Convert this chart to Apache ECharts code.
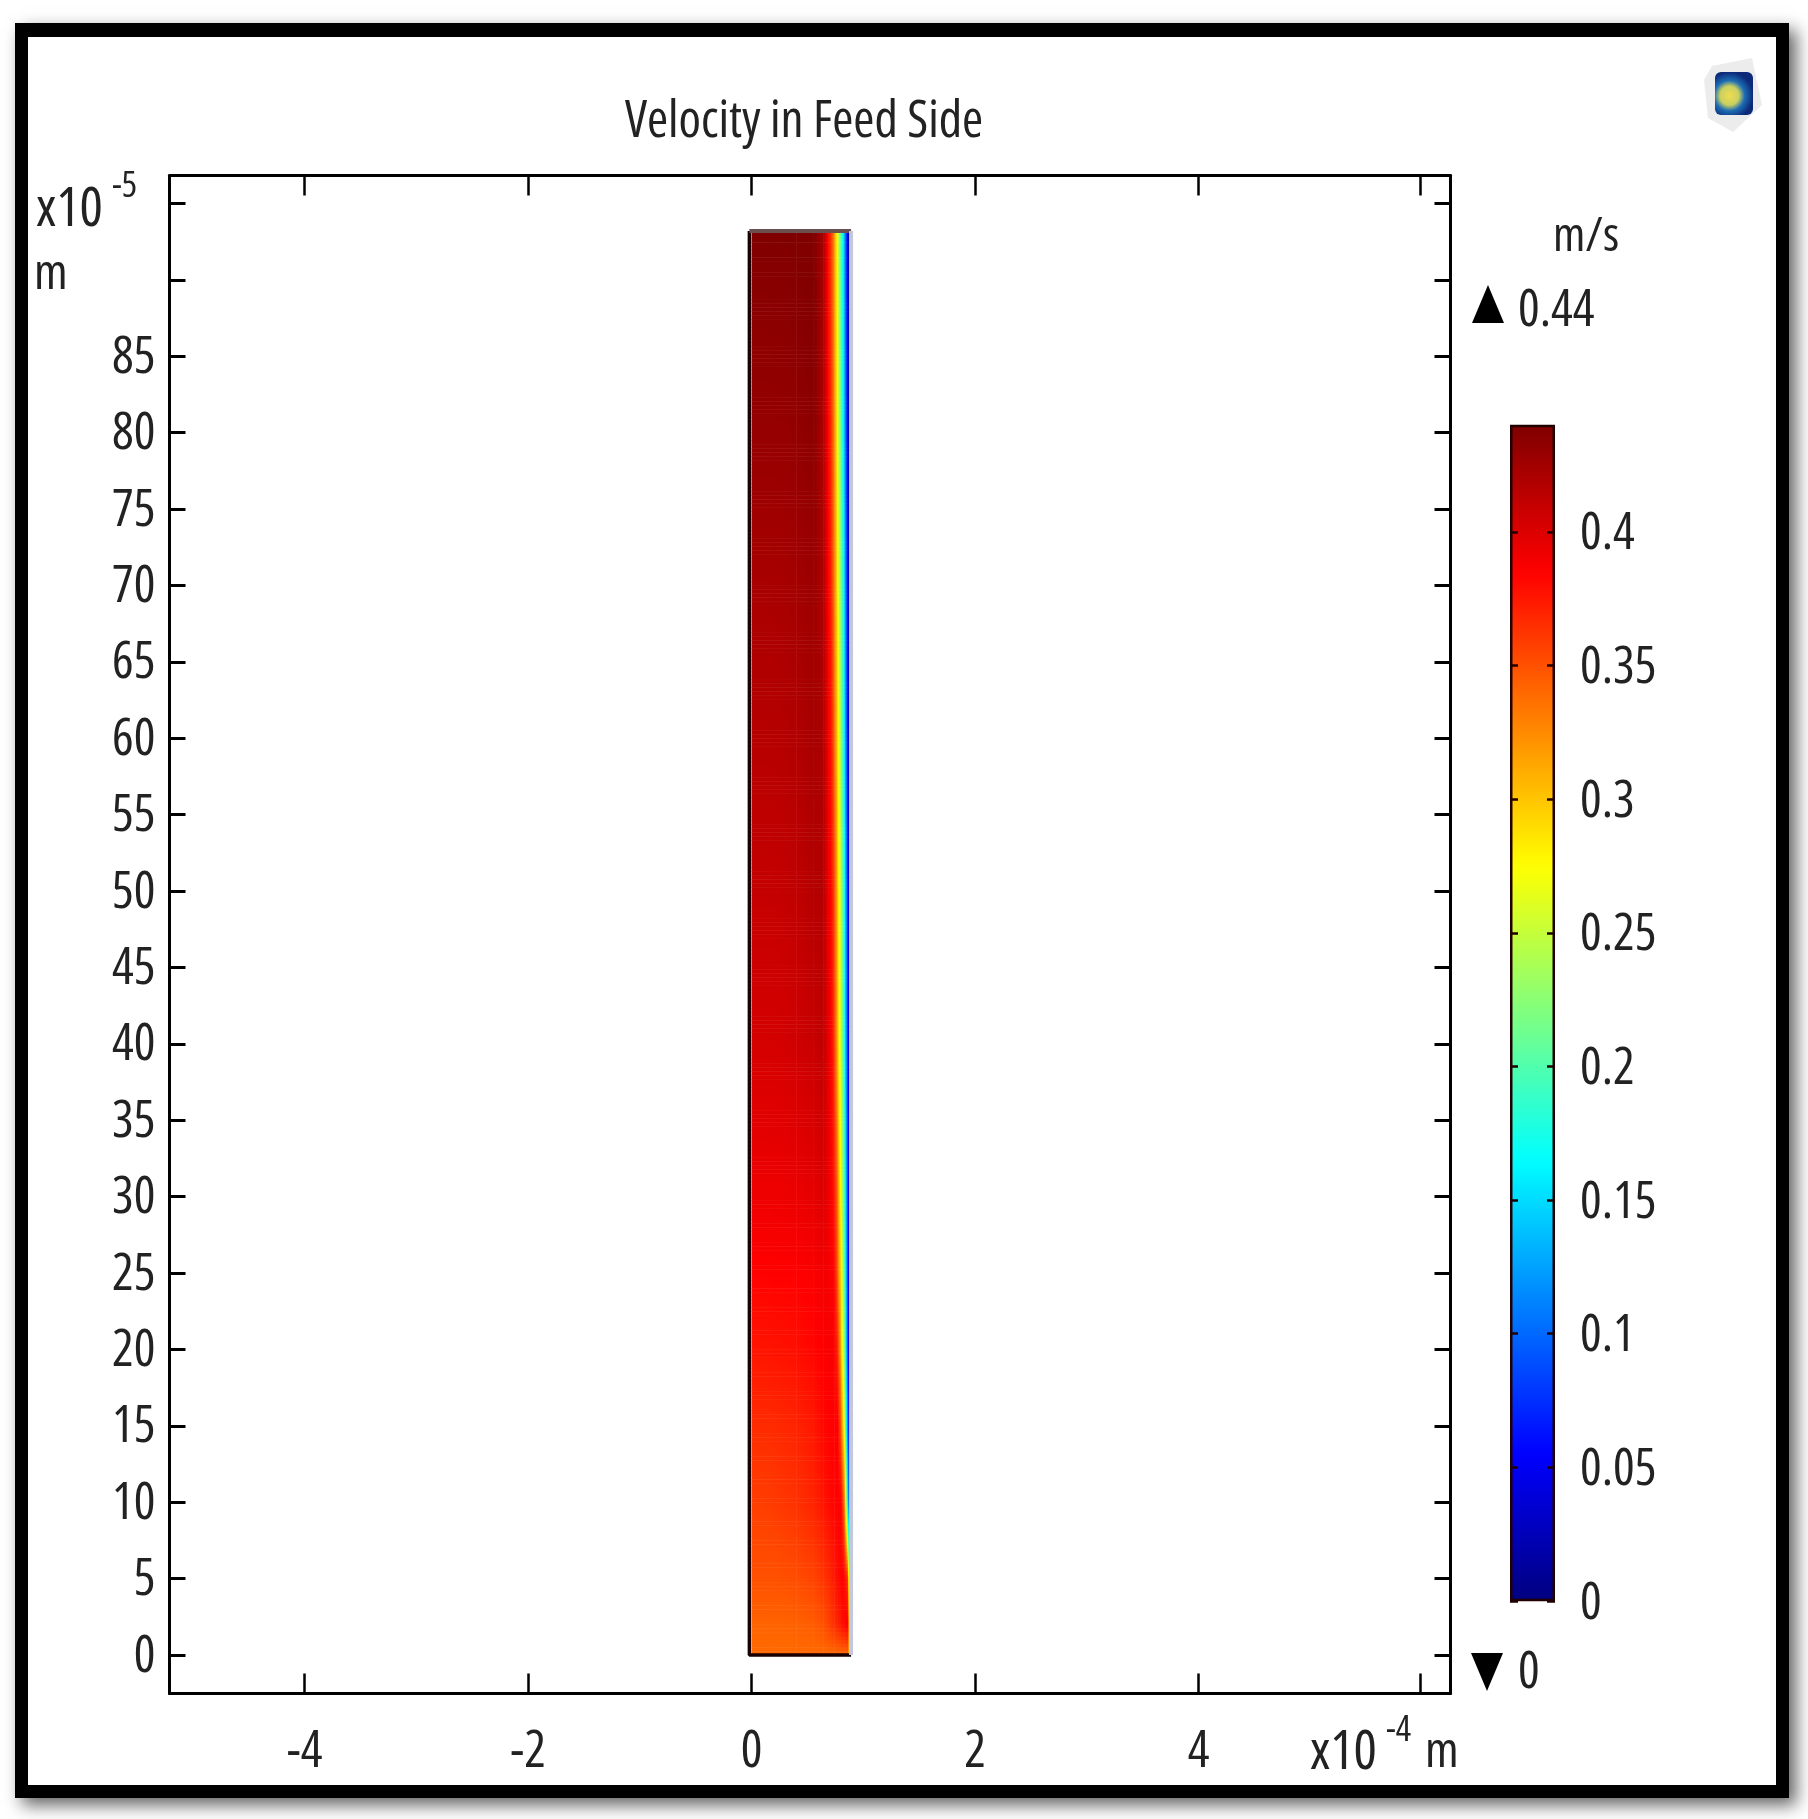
<!DOCTYPE html>
<html lang="en">
<head>
    <meta charset="UTF-8">
    <title>Velocity in Feed Side</title>
    <script type="text/javascript" src="https://cdn.jsdelivr.net/npm/echarts@6/dist/echarts.min.js"></script>
    <style>
        html, body { margin: 0; padding: 0; background: #fff; overflow: hidden; }
        #main { width: 1808px; height: 1819px; }
    </style>
</head>
<body>
<div id="main"></div>
<script type="text/javascript">
    // axis ticks and labels
    var xTicks = [-4, -2, 0, 2, 4, 5.98];
    var xLabels = [-4, -2, 0, 2, 4];
    var yTicks = [0, 5, 10, 15, 20, 25, 30, 35, 40, 45, 50, 55, 60, 65, 70, 75, 80, 85, 90, 95];
    var yLabels = [0, 5, 10, 15, 20, 25, 30, 35, 40, 45, 50, 55, 60, 65, 70, 75, 80, 85];
    var barTicks = [0, 0.05, 0.1, 0.15, 0.2, 0.25, 0.3, 0.35, 0.4];
    var jetColors = ['#00007f', '#0000ff', '#007fff', '#00ffff', '#7fff7f', '#ffff00', '#ff7f00', '#ff0000', '#7f0000'];

    // channel outline
    var wallLeft = -0.02;
    var wallRight = 0.89;
    var wallTop = 93.2;

    // velocity, m/s. stations in x (1e-4 m) and y (1e-5 m)
    var fieldX = [0, 0.2, 0.4, 0.55, 0.64, 0.68, 0.71, 0.74, 0.77, 0.80, 0.83, 0.86, 0.885];
    var fieldY = [0, 2, 5, 10, 15, 20, 25, 30, 40, 50, 60, 70, 80, 90, 93.2];
    var vY0  = [0.339, 0.339, 0.339, 0.339, 0.339, 0.339, 0.339, 0.339, 0.339, 0.339, 0.339, 0.339, 0.25];
    var vY2  = [0.342, 0.342, 0.343, 0.345, 0.35, 0.355, 0.36, 0.365, 0.37, 0.375, 0.385, 0.385, 0.20];
    var vY5  = [0.35, 0.35, 0.352, 0.356, 0.362, 0.366, 0.37, 0.375, 0.38, 0.384, 0.385, 0.36, 0.08];
    var vY10 = [0.358, 0.36, 0.364, 0.37, 0.376, 0.38, 0.382, 0.384, 0.385, 0.385, 0.33, 0.15, 0];
    var vY15 = [0.366, 0.367, 0.37, 0.375, 0.382, 0.384, 0.385, 0.385, 0.385, 0.34, 0.26, 0.09, 0];
    var vY20 = [0.376, 0.377, 0.379, 0.383, 0.386, 0.387, 0.387, 0.386, 0.365, 0.30, 0.22, 0.07, 0];
    var vY25 = [0.384, 0.385, 0.385, 0.387, 0.39, 0.389, 0.386, 0.383, 0.34, 0.28, 0.20, 0.07, 0];
    var vY30 = [0.392, 0.392, 0.393, 0.396, 0.4, 0.394, 0.386, 0.375, 0.33, 0.26, 0.19, 0.07, 0];
    var vY40 = [0.403, 0.403, 0.405, 0.409, 0.412, 0.398, 0.385, 0.36, 0.30, 0.245, 0.175, 0.065, 0];
    var vY50 = [0.41, 0.41, 0.412, 0.417, 0.418, 0.395, 0.382, 0.353, 0.295, 0.24, 0.17, 0.06, 0];
    var vY60 = [0.416, 0.416, 0.418, 0.423, 0.42, 0.393, 0.375, 0.34, 0.285, 0.225, 0.155, 0.05, 0];
    var vY70 = [0.422, 0.422, 0.424, 0.428, 0.42, 0.39, 0.37, 0.33, 0.275, 0.215, 0.145, 0.045, 0];
    var vY80 = [0.43, 0.43, 0.431, 0.435, 0.42, 0.388, 0.365, 0.325, 0.265, 0.205, 0.135, 0.04, 0];
    var vY90 = [0.436, 0.436, 0.437, 0.44, 0.422, 0.385, 0.36, 0.32, 0.26, 0.20, 0.13, 0.035, 0];
    var vY93 = [0.44, 0.44, 0.44, 0.44, 0.424, 0.385, 0.36, 0.32, 0.26, 0.20, 0.13, 0.035, 0];
    var fieldRows = [vY0, vY2, vY5, vY10, vY15, vY20, vY25, vY30, vY40, vY50, vY60, vY70, vY80, vY90, vY93];
    var vMax = 0.44;

    var font = '"Open Sans"';
    var stretch = 'condensed'; // goes through fontWeight, that is where the canvas font string takes it
    var inkColor = '#222';

    // one item per cell: x0, x1, y0, y1, mean, then the four corners
    var cells = [];
    for (var j = 0; j < fieldY.length - 1; j++) {
        for (var i = 0; i < fieldX.length - 1; i++) {
            var bl = fieldRows[j][i], br = fieldRows[j][i + 1];
            var tl = fieldRows[j + 1][i], tr = fieldRows[j + 1][i + 1];
            cells.push([fieldX[i], fieldX[i + 1], fieldY[j], fieldY[j + 1], (bl + br + tl + tr) / 4, bl, br, tl, tr]);
        }
    }

    function jet(v) {
        return echarts.color.lerp(v / vMax, jetColors);
    }

    // shade a cell from its four corners, thin strips so the rainbow edge does not stair-step
    function renderCell(params, api) {
        var p0 = api.coord([api.value(0), api.value(2)]);
        var p1 = api.coord([api.value(1), api.value(3)]);
        var bl = api.value(5), br = api.value(6), tl = api.value(7), tr = api.value(8);
        var w = p1[0] - p0[0];
        var h = p0[1] - p1[1];
        var n = Math.max(1, Math.ceil(h / 4));
        var children = [];
        for (var k = 0; k < n; k++) {
            var t = (k + 0.5) / n;
            var vl = bl + (tl - bl) * t;
            var vr = br + (tr - br) * t;
            var stops = [];
            for (var s = 0; s <= 4; s++) {
                stops.push({offset: s / 4, color: jet(vl + (vr - vl) * s / 4)});
            }
            children.push({
                type: 'rect',
                shape: {x: p0[0], y: p0[1] - h * (k + 1) / n, width: w + 0.5, height: h / n + 0.5},
                style: {fill: new echarts.graphic.LinearGradient(0, 0, 1, 0, stops)}
            });
        }
        return {type: 'group', children: children};
    }

    function txt(text, x, y, size, align) {
        return {
            type: 'text',
            x: x,
            y: y,
            z: 20,
            silent: true,
            style: {
                text: text,
                fill: inkColor,
                font: stretch + ' ' + size + 'px ' + font,
                textAlign: align || 'left',
                textVerticalAlign: 'middle'
            }
        };
    }

    var graphics = [
        // frame with its drop shadow
        {
            type: 'rect',
            z: -10,
            silent: true,
            shape: {x: 15, y: 23, width: 1774, height: 1775},
            style: {fill: '#000', shadowColor: 'rgba(0,0,0,0.62)', shadowBlur: 16, shadowOffsetX: 7, shadowOffsetY: 7}
        },
        {
            type: 'rect',
            z: -9,
            silent: true,
            shape: {x: 28, y: 37, width: 1748, height: 1748},
            style: {fill: '#fff'}
        },
        // legend triangles
        {type: 'polygon', z: 20, silent: true, shape: {points: [[1488, 285], [1504, 323], [1472, 323]]}, style: {fill: '#000'}},
        {type: 'polygon', z: 20, silent: true, shape: {points: [[1471, 1653], [1503, 1653], [1487, 1691]]}, style: {fill: '#000'}},
        // colour bar outline
        {type: 'rect', z: 20, silent: true, shape: {x: 1511.25, y: 426, width: 42.5, height: 1174}, style: {fill: 'none', stroke: '#200000', lineWidth: 2.5}},
        // application icon
        {type: 'polygon', z: 20, silent: true, shape: {points: [[1712, 66], [1752, 58], [1762, 105], [1733, 132], [1708, 118], [1704, 80]]}, style: {fill: '#ececec'}},
        {
            type: 'rect',
            z: 21,
            silent: true,
            shape: {x: 1715, y: 72, width: 38, height: 43, r: 6},
            style: {fill: new echarts.graphic.RadialGradient(0.38, 0.55, 0.62, [
                {offset: 0, color: '#f0dc50'},
                {offset: 0.4, color: '#c8d060'},
                {offset: 0.65, color: '#1c6cb4'},
                {offset: 1, color: '#0c2a78'}
            ])}
        },
        // unit texts
        txt('x10', 36, 210, 55),
        txt('-5', 112, 187, 36),
        txt('m', 34, 275, 50),
        txt('x10', 1310, 1753, 55),
        txt('-4', 1386, 1731, 36),
        txt('m', 1425, 1753, 50),
        txt('m/s', 1553, 237, 48),
        txt('0.44', 1518, 311, 51),
        txt('0', 1518, 1673, 51)
    ];

    var baseLabel = {
        color: inkColor,
        fontFamily: font,
        fontWeight: stretch,
        fontSize: 51
    };

    // grids 2 and 3 only carry the labels, a few pixels below their ticks as in the reference
    var option = {
        animation: false,
        backgroundColor: '#fff',
        title: {
            text: 'Velocity in Feed Side',
            left: 799,
            top: 92,
            textAlign: 'center',
            textStyle: {color: inkColor, fontFamily: font, fontSize: 51, fontWeight: stretch}
        },
        graphic: graphics,
        visualMap: {
            type: 'continuous',
            seriesIndex: 0,
            dimension: 4,
            min: 0,
            max: vMax,
            calculable: false,
            hoverLink: false,
            realtime: false,
            left: 1510,
            top: 425,
            padding: 0,
            itemWidth: 45,
            itemHeight: 1176,
            text: ['', ''],
            showLabel: false,
            inRange: {color: jetColors}
        },
        grid: [
            {left: 169.5, top: 175.5, width: 1281, height: 1518},
            {left: 1510, top: 425, width: 45, height: 1176},
            {left: 169.5, top: 177.5, width: 1281, height: 1518},
            {left: 1510, top: 428, width: 45, height: 1176}
        ],
        xAxis: [
            {
                type: 'value', gridIndex: 0, position: 'bottom', min: -5.209, max: 6.254,
                splitLine: {show: false},
                axisLine: {onZero: false, lineStyle: {color: '#000', width: 3}},
                axisTick: {inside: true, length: 20, customValues: xTicks, lineStyle: {color: '#000', width: 2.5}},
                axisLabel: Object.assign({margin: 33, customValues: xLabels}, baseLabel)
            },
            {
                type: 'value', gridIndex: 0, position: 'top', min: -5.209, max: 6.254,
                splitLine: {show: false},
                axisLine: {onZero: false, lineStyle: {color: '#000', width: 3}},
                axisTick: {inside: true, length: 20, customValues: xTicks, lineStyle: {color: '#000', width: 2.5}},
                axisLabel: {show: false}
            },
            {type: 'value', gridIndex: 1, min: 0, max: 1, show: false},
            {type: 'value', gridIndex: 2, min: 0, max: 1, show: false},
            {type: 'value', gridIndex: 3, min: 0, max: 1, show: false}
        ],
        yAxis: [
            {
                type: 'value', gridIndex: 0, position: 'left', min: -2.52, max: 96.83,
                splitLine: {show: false},
                axisLine: {onZero: false, lineStyle: {color: '#000', width: 3}},
                axisTick: {inside: true, length: 16, customValues: yTicks, lineStyle: {color: '#000', width: 3}},
                axisLabel: {show: false}
            },
            {
                type: 'value', gridIndex: 0, position: 'right', min: -2.52, max: 96.83,
                splitLine: {show: false},
                axisLine: {onZero: false, lineStyle: {color: '#000', width: 3}},
                axisTick: {inside: true, length: 16, customValues: yTicks, lineStyle: {color: '#000', width: 3}},
                axisLabel: {show: false}
            },
            {
                type: 'value', gridIndex: 1, position: 'left', min: 0, max: vMax, z: 10,
                splitLine: {show: false},
                axisLine: {show: false},
                axisTick: {inside: true, length: 8, customValues: barTicks, lineStyle: {color: '#200000', width: 2.5}},
                axisLabel: {show: false}
            },
            {
                type: 'value', gridIndex: 1, position: 'right', min: 0, max: vMax, z: 10,
                splitLine: {show: false},
                axisLine: {show: false},
                axisTick: {inside: true, length: 8, customValues: barTicks, lineStyle: {color: '#200000', width: 2.5}},
                axisLabel: {show: false}
            },
            {
                type: 'value', gridIndex: 2, position: 'left', min: -2.52, max: 96.83,
                splitLine: {show: false},
                axisLine: {show: false, onZero: false},
                axisTick: {show: false},
                axisLabel: Object.assign({margin: 14, customValues: yLabels}, baseLabel)
            },
            {
                type: 'value', gridIndex: 3, position: 'right', min: 0, max: vMax,
                splitLine: {show: false},
                axisLine: {show: false},
                axisTick: {show: false},
                axisLabel: Object.assign({margin: 25, customValues: barTicks}, baseLabel)
            }
        ],
        series: [
            {
                name: 'velocity',
                type: 'custom',
                xAxisIndex: 0,
                yAxisIndex: 0,
                silent: true,
                renderItem: renderCell,
                encode: {x: [0, 1], y: [2, 3]},
                data: cells,
                z: 2
            },
            {
                name: 'wall left bottom',
                type: 'line',
                xAxisIndex: 0,
                yAxisIndex: 0,
                silent: true,
                showSymbol: false,
                data: [[wallLeft, wallTop], [wallLeft, 0], [wallRight, 0]],
                lineStyle: {color: '#1a0000', width: 3.5},
                z: 3
            },
            {
                name: 'wall top',
                type: 'line',
                xAxisIndex: 0,
                yAxisIndex: 0,
                silent: true,
                showSymbol: false,
                data: [[wallLeft, wallTop], [wallRight, wallTop]],
                lineStyle: {color: '#6b5050', width: 4},
                z: 3
            },
            {
                name: 'wall right',
                type: 'line',
                xAxisIndex: 0,
                yAxisIndex: 0,
                silent: true,
                showSymbol: false,
                data: [[wallRight, 0], [wallRight, wallTop]],
                lineStyle: {color: '#c3c8dc', width: 4},
                z: 3
            }
        ]
    };

    var myChart = echarts.init(document.getElementById('main'));
    myChart.setOption(option);
</script>
</body>
</html>
